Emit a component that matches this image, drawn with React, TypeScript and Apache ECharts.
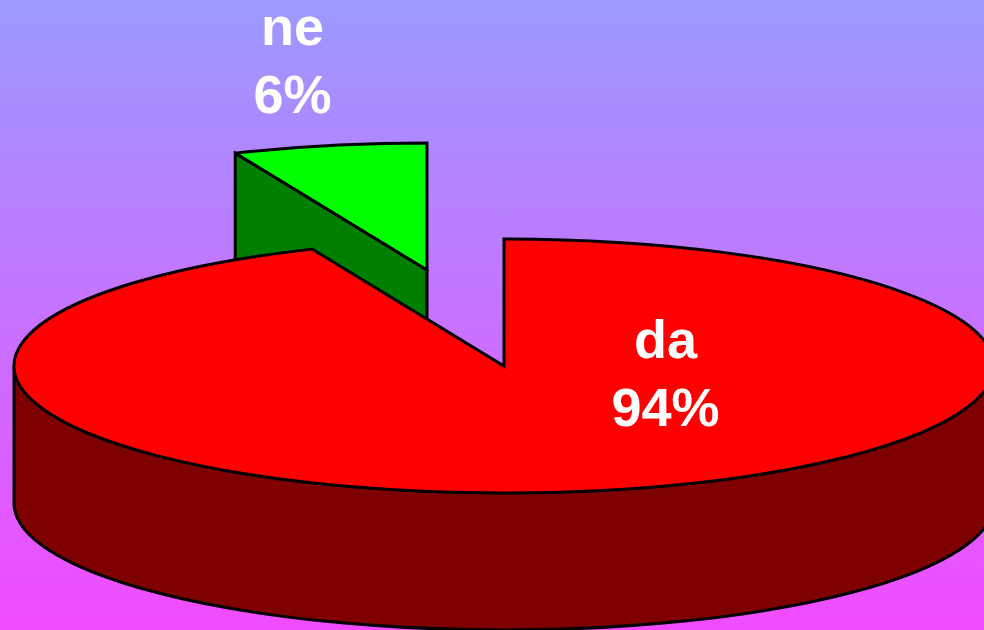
import React, { useEffect, useRef } from "react";
import * as echarts from "echarts";

const categories = ["da", "ne"];
const shares = [93.6, 6.4];

const topColors = ["#ff0000", "#00ff00"];
const wallColors = ["#7f0000", "#007f00"];
const explode = [
  [0, 0],
  [-77, -96],
];
const labelCentres = [
  [665.5, 338.5, 406.5],
  [292.5, 26, 94],
];

const CX = 504;
const CY = 366;
const RX = 490;
const RY = 127;
const DEPTH = 137;
const FONT = '"Liberation Sans", Arial, sans-serif';

function pt(cx: number, cy: number, t: number): [number, number] {
  return [cx + RX * Math.sin(t), cy - RY * Math.cos(t)];
}

function renderSlice(params: any, api: any) {
  const i = params.dataIndex;
  const total = shares.reduce((a, b) => a + b, 0);
  const before = shares.slice(0, i).reduce((a, b) => a + b, 0);
  const value = api.value(0);
  const t0 = (before / total) * Math.PI * 2;
  const t1 = ((before + value) / total) * Math.PI * 2;
  const cx = CX + explode[i][0];
  const cy = CY + explode[i][1];
  const [sx, sy] = pt(cx, cy, t0);
  const [ex, ey] = pt(cx, cy, t1);
  const large = t1 - t0 > Math.PI ? 1 : 0;
  const stroke = { stroke: "#000", lineWidth: 3, lineJoin: "miter", miterLimit: 3 };
  const children: any[] = [];

  // cut face along the slice's first edge, visible when it looks to the viewer
  if (t0 > Math.PI && t0 < Math.PI * 2) {
    children.push({
      type: "path",
      z2: 1,
      shape: {
        pathData: `M${sx} ${sy}L${cx} ${cy}L${cx} ${cy + DEPTH}L${sx} ${sy + DEPTH}Z`,
      },
      style: { fill: wallColors[i], ...stroke },
    });
  }

  // outer wall: only the front half of the ellipse can be seen
  const w0 = Math.max(t0, Math.PI / 2);
  const w1 = Math.min(t1, (Math.PI * 3) / 2);
  if (w1 > w0) {
    const [ax, ay] = pt(cx, cy, w0);
    const [bx, by] = pt(cx, cy, w1);
    children.push({
      type: "path",
      z2: 3,
      shape: {
        pathData:
          `M${ax} ${ay}A${RX} ${RY} 0 0 1 ${bx} ${by}` +
          `L${bx} ${by + DEPTH}A${RX} ${RY} 0 0 0 ${ax} ${ay + DEPTH}Z`,
      },
      style: { fill: wallColors[i], ...stroke },
    });
  }

  // top face
  children.push({
    type: "path",
    z2: i === 0 ? 4 : 2,
    shape: {
      pathData: `M${cx} ${cy}L${sx} ${sy}A${RX} ${RY} 0 ${large} 1 ${ex} ${ey}Z`,
    },
    style: { fill: topColors[i], ...stroke },
  });

  // labels: name above rounded percentage
  const lines = [categories[i], `${Math.round(value)}%`];
  lines.forEach((text, k) => {
    children.push({
      type: "text",
      z2: 10,
      style: {
        x: labelCentres[i][0],
        y: labelCentres[i][k + 1],
        text,
        fill: "#fff",
        font: `bold 54px ${FONT}`,
        lineHeight: 48,
        align: "center",
        verticalAlign: "middle",
      },
    });
  });

  return { type: "group", children };
}

export default function App() {
  const ref = useRef<HTMLDivElement>(null);

  useEffect(() => {
    document.body.style.margin = "0";
    const chart = echarts.init(ref.current!, undefined, { renderer: "svg" });
    chart.setOption({
      animation: false,
      backgroundColor: new echarts.graphic.LinearGradient(0, 0, 0, 1, [
        { offset: 0, color: "#9b9aff" },
        { offset: 1, color: "#f14bff" },
      ]),
      tooltip: { show: false },
      series: [
        {
          type: "custom",
          coordinateSystem: "none",
          silent: true,
          renderItem: renderSlice,
          data: shares.map((v, i) => ({ name: categories[i], value: [v] })),
        },
      ],
    });
    return () => chart.dispose();
  }, []);

  return <div ref={ref} style={{ width: 984, height: 630 }} />;
}
